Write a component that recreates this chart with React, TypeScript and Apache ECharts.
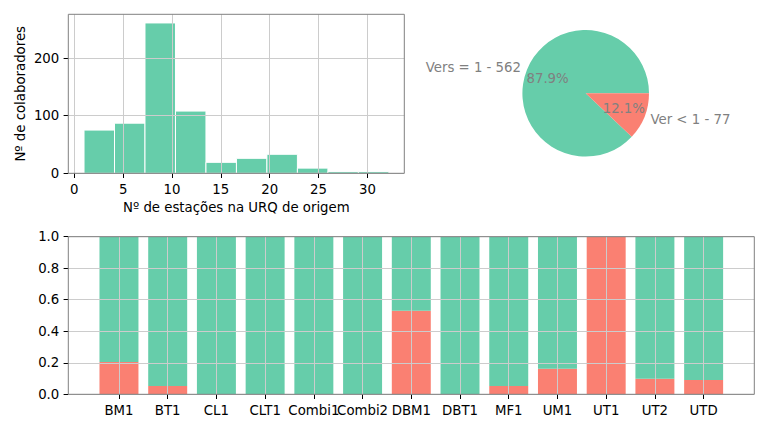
import React, { useEffect, useRef } from "react";
import * as echarts from "echarts";

// ---- Histogram data ----
const histBinEdges = [1, 4.12, 7.24, 10.36, 13.48, 16.6, 19.72, 22.84, 25.96, 29.08, 32.2];
const histCounts = [75, 87, 261, 108, 19, 26, 33, 9, 3, 3];
const histXTicks = [0, 5, 10, 15, 20, 25, 30];
const histYTicks = [0, 100, 200];

// ---- Pie data ----
const pieNames = ["Vers = 1", "Ver < 1"];
const pieValues = [562, 77];

// ---- Stacked share data ----
const groups = ["BM1", "BT1", "CL1", "CLT1", "Combi1", "Combi2", "DBM1", "DBT1", "MF1", "UM1", "UT1", "UT2", "UTD"];
const shareLow = [0.205, 0.052, 0, 0, 0, 0, 0.53, 0, 0.053, 0.162, 1, 0.099, 0.091];
const shareEq = [0.795, 0.948, 1, 1, 1, 1, 0.47, 1, 0.947, 0.838, 0, 0.901, 0.909];
const barWidthFrac = 0.8;

const GREEN = "#66CDAA";
const RED = "#FA8072";
const GRID = "#cccccc";
const FRAME = "#808080";
const FONT = "DejaVu Sans";
const FS = 13.3;

export default function App() {
  const ref = useRef<HTMLDivElement>(null);
  useEffect(() => {
    const chart = echarts.init(ref.current!, null, { renderer: "svg" });
    const total = pieValues.reduce((a, b) => a + b, 0);
    const histData = histCounts.map((c, i) => [histBinEdges[i], histBinEdges[i + 1], c]);
    const shareData = groups.map((_, i) => [i, shareLow[i], shareEq[i]]);
    const tickStyle = { show: true, length: 4.7, lineStyle: { color: "#000", width: 1 } };
    const labelStyle = { color: "#000", fontSize: FS, fontFamily: FONT };
    const noLine = { show: false, onZero: false };
    const option: any = {
      animation: false,
      backgroundColor: "#fff",
      textStyle: { fontFamily: FONT },
      grid: [
        { left: 68.3, top: 14.3, width: 336, height: 159, show: true, z: 5, backgroundColor: "transparent", borderColor: FRAME, borderWidth: 1 },
        { left: 68.3, top: 236.7, width: 686, height: 157.6, show: true, z: 5, backgroundColor: "transparent", borderColor: FRAME, borderWidth: 1 },
      ],
      xAxis: [
        {
          type: "value", gridIndex: 0, min: -0.61, max: 33.78, z: 3,
          axisLine: noLine,
          axisTick: { ...tickStyle, customValues: histXTicks },
          axisLabel: { ...labelStyle, margin: 10, customValues: histXTicks, formatter: (v: number) => String(v) },
          splitLine: { show: true, lineStyle: { color: GRID, width: 1 } },
          name: "Nº de estações na URQ de origem", nameLocation: "middle", nameGap: 28,
          nameTextStyle: { ...labelStyle },
        },
        {
          type: "value", gridIndex: 1, min: -1.04, max: 13.04, z: 3,
          axisLine: noLine,
          axisTick: { ...tickStyle, customValues: groups.map((_, i) => i) },
          axisLabel: { ...labelStyle, margin: 10, customValues: groups.map((_, i) => i), formatter: (v: number) => groups[Math.round(v)] ?? "" },
          splitLine: { show: true, lineStyle: { color: GRID, width: 1 } },
        },
      ],
      yAxis: [
        {
          type: "value", gridIndex: 0, min: 0, max: 276, z: 3,
          axisLine: noLine,
          axisTick: { ...tickStyle, customValues: histYTicks },
          axisLabel: { ...labelStyle, margin: 9, customValues: histYTicks, formatter: (v: number) => String(v) },
          splitLine: { show: true, lineStyle: { color: GRID, width: 1 } },
          name: "Nº de colaboradores", nameLocation: "middle", nameGap: 41,
          nameTextStyle: { ...labelStyle },
        },
        {
          type: "value", gridIndex: 1, min: 0, max: 1, interval: 0.2, z: 3,
          axisLine: noLine,
          axisTick: { ...tickStyle },
          axisLabel: { ...labelStyle, margin: 9, formatter: (v: number) => v.toFixed(1) },
          splitLine: { show: true, lineStyle: { color: GRID, width: 1 } },
        },
      ],
      series: [
        {
          type: "custom", xAxisIndex: 0, yAxisIndex: 0, z: 2,
          data: histData,
          encode: { x: [0, 1], y: 2 },
          renderItem: (params: any, api: any) => {
            const p0 = api.coord([api.value(0), api.value(2)]);
            const p1 = api.coord([api.value(1), 0]);
            return {
              type: "rect",
              shape: { x: p0[0], y: p0[1], width: p1[0] - p0[0], height: p1[1] - p0[1] },
              style: { fill: GREEN, stroke: "#fff", lineWidth: 1 },
            };
          },
        },
        {
          type: "pie", center: [585.7, 93.3], radius: 63.3, startAngle: 0, clockwise: false,
          avoidLabelOverlap: false, silent: true,
          data: pieNames.map((n, i) => ({ name: n, value: pieValues[i], itemStyle: { color: i === 0 ? GREEN : RED } })),
          label: { show: true, position: "outside", formatter: "{b} - {c}", color: FRAME, fontSize: FS, fontFamily: FONT, distanceToLabelLine: 0 },
          labelLine: { show: false, length: 6.33, length2: 0 },
          emphasis: { disabled: true },
        },
        {
          type: "pie", center: [585.7, 93.3], radius: [0, 76], startAngle: 0, clockwise: false,
          avoidLabelOverlap: false, silent: true, z: 3,
          data: pieNames.map((n, i) => ({ name: n, value: pieValues[i], itemStyle: { color: "transparent" } })),
          label: { show: true, position: "inside", formatter: (p: any) => ((p.value / total) * 100).toFixed(1) + "%", color: FRAME, fontSize: FS, fontFamily: FONT },
          labelLine: { show: false },
          emphasis: { disabled: true },
        },
        {
          type: "custom", xAxisIndex: 1, yAxisIndex: 1, z: 2,
          data: shareData,
          encode: { x: 0, y: [1, 2] },
          renderItem: (params: any, api: any) => {
            const x = api.value(0);
            const low = api.value(1);
            const eq = api.value(2);
            const half = barWidthFrac / 2;
            const a0 = api.coord([x - half, low]);
            const a1 = api.coord([x + half, 0]);
            const b0 = api.coord([x - half, low + eq]);
            const b1 = api.coord([x + half, low]);
            return {
              type: "group",
              children: [
                { type: "rect", shape: { x: a0[0], y: a0[1], width: a1[0] - a0[0], height: a1[1] - a0[1] }, style: { fill: RED } },
                { type: "rect", shape: { x: b0[0], y: b0[1], width: b1[0] - b0[0], height: b1[1] - b0[1] }, style: { fill: GREEN } },
              ],
            };
          },
        },
      ],
    };
    chart.setOption(option);
    return () => chart.dispose();
  }, []);
  return <div ref={ref} style={{ position: "fixed", left: 0, top: 0, width: 768, height: 432 }} />;
}
